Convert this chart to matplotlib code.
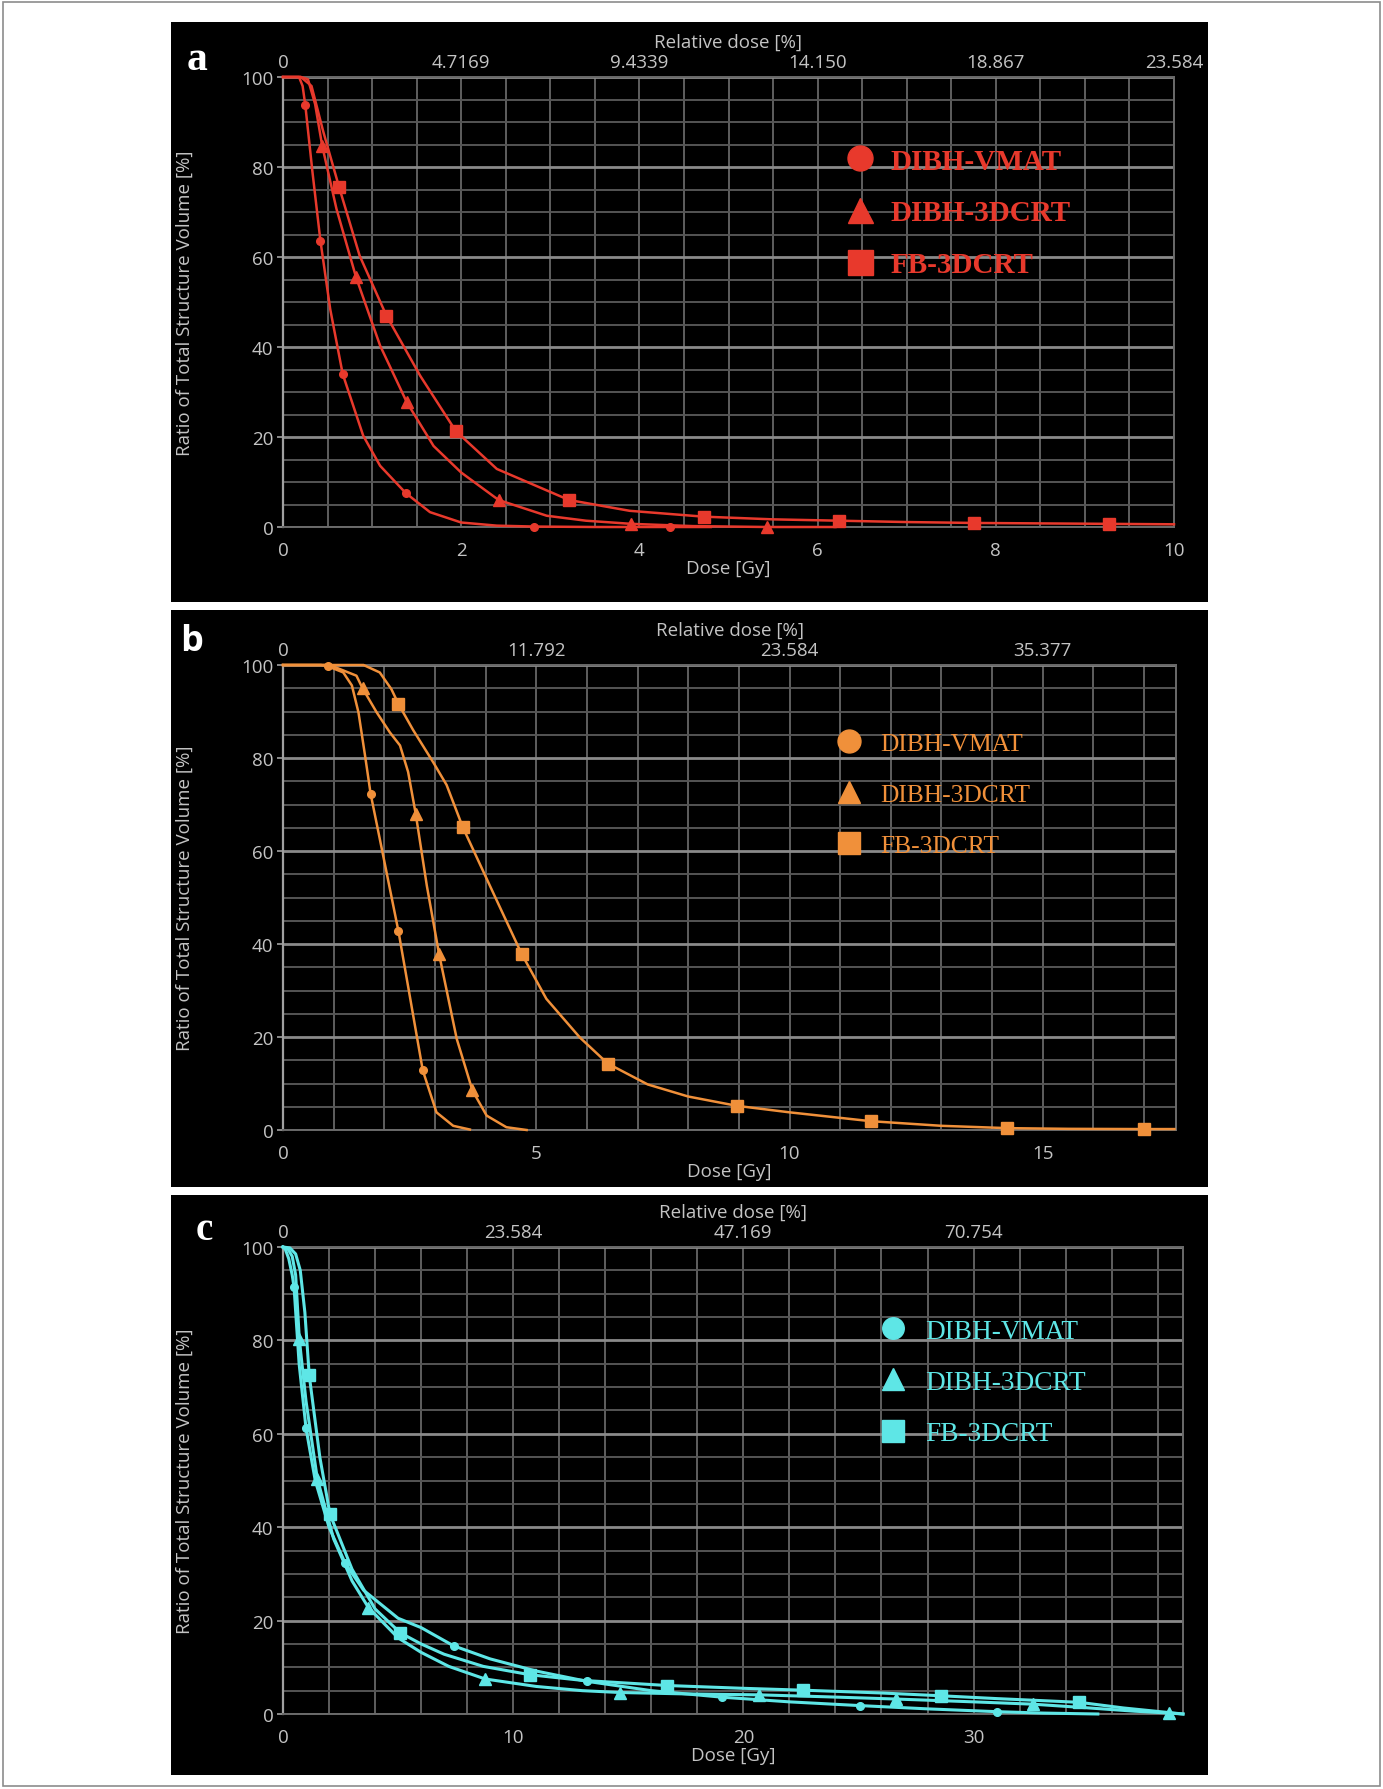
import matplotlib
matplotlib.use('Agg')
import matplotlib.pyplot as plt
from matplotlib.patches import Rectangle
from matplotlib.lines import Line2D
from matplotlib.ticker import MultipleLocator

# ---------------- data ----------------
series_names = ["DIBH-VMAT", "DIBH-3DCRT", "FB-3DCRT"]

# panel a
a_vmat_dose = [0, 0.18, 0.22, 0.25, 0.33, 0.42, 0.53, 0.67, 0.9, 1.09, 1.38, 1.65, 2.0, 2.4, 2.82, 3.5, 4.34, 4.8]
a_vmat_vol = [100, 100, 98, 93.8, 79, 63.6, 48.4, 34, 20.3, 13.6, 7.5, 3.3, 1.0, 0.3, 0.1, 0, 0, 0]
a_3d_dose = [0, 0.2, 0.28, 0.36, 0.44, 0.6, 0.82, 1.09, 1.39, 1.69, 2.0, 2.42, 2.96, 3.4, 3.91, 4.6, 5.43, 6.2]
a_3d_vol = [100, 100, 99.5, 94, 84.7, 70.7, 55.5, 40.3, 27.7, 18, 12.1, 6.0, 2.5, 1.4, 0.7, 0.2, 0, 0]
a_fb_dose = [0, 0.2, 0.32, 0.45, 0.63, 0.86, 1.16, 1.54, 1.94, 2.4, 3.21, 3.89, 4.72, 5.5, 6.24, 7.0, 7.75, 8.5, 9.27, 10.0]
a_fb_vol = [100, 100, 98, 88, 75.5, 60.3, 47, 33.6, 21.3, 12.9, 6.0, 3.6, 2.3, 1.7, 1.4, 1.1, 0.9, 0.8, 0.7, 0.6]
a_vmat_mk_dose = [0.25, 0.42, 0.67, 1.38, 2.82, 4.34]
a_vmat_mk_vol = [93.8, 63.6, 34.0, 7.5, 0.1, 0]
a_3d_mk_dose = [0.44, 0.82, 1.39, 2.42, 3.91, 5.43]
a_3d_mk_vol = [84.7, 55.5, 27.7, 6.0, 0.7, 0]
a_fb_mk_dose = [0.63, 1.16, 1.94, 3.21, 4.72, 6.24, 7.75, 9.27]
a_fb_mk_vol = [75.5, 47, 21.3, 6.0, 2.3, 1.4, 0.9, 0.7]
a_rel_ticks = [0, 2, 4, 6, 8, 10]
a_rel_labels = ["0", "4.7169", "9.4339", "14.150", "18.867", "23.584"]

# panel b
b_vmat_dose = [0, 0.75, 0.89, 1.19, 1.36, 1.49, 1.62, 1.73, 2.0, 2.28, 2.5, 2.76, 3.03, 3.36, 3.69]
b_vmat_vol = [100, 100, 99.7, 98.4, 95.6, 89.8, 80.5, 72.3, 57.8, 42.7, 29, 12.8, 3.8, 0.9, 0.1]
b_3d_dose = [0, 0.85, 0.99, 1.45, 1.57, 1.85, 2.11, 2.31, 2.47, 2.62, 2.84, 3.08, 3.43, 3.74, 4.02, 4.41, 4.81]
b_3d_vol = [100, 100, 99.7, 97.7, 95, 89.8, 85.5, 82.7, 77, 68, 52.5, 37.9, 19.6, 8.5, 3.1, 0.6, 0]
b_fb_dose = [0, 1.59, 1.91, 2.14, 2.28, 2.57, 2.97, 3.23, 3.55, 4.15, 4.71, 5.2, 5.86, 6.41, 7.2, 8.0, 8.96, 10.0, 11.6, 13.0, 14.3, 15.5, 17.0, 17.6]
b_fb_vol = [100, 100, 98.4, 94.8, 91.6, 86, 79, 74.2, 65.1, 51, 37.9, 28.2, 19.9, 14.3, 9.8, 7.2, 5.2, 3.8, 1.9, 0.9, 0.4, 0.25, 0.2, 0.2]
b_vmat_mk_dose = [0.89, 1.73, 2.28, 2.76]
b_vmat_mk_vol = [99.7, 72.3, 42.7, 12.8]
b_3d_mk_dose = [1.57, 2.62, 3.08, 3.74]
b_3d_mk_vol = [95, 68, 37.9, 8.5]
b_fb_mk_dose = [2.28, 3.55, 4.71, 6.41, 8.96, 11.6, 14.3, 17.0]
b_fb_mk_vol = [91.6, 65.1, 37.9, 14.3, 5.2, 1.9, 0.4, 0.2]
b_rel_ticks = [0, 5, 10, 15]
b_rel_labels = ["0", "11.792", "23.584", "35.377"]

# panel c
c_vmat_dose = [0, 0.1, 0.25, 0.4, 0.48, 0.7, 1.0, 1.4, 2.0, 2.7, 3.5, 5.0, 6.0, 7.41, 9.0, 11, 13.2, 16, 19.07, 22, 25.06, 28, 31.0, 33, 35.4]
c_vmat_vol = [100, 99.5, 97.5, 94, 91.4, 75, 61.2, 50, 40, 32.3, 26.5, 20.5, 18.5, 14.6, 11.8, 9.2, 7.0, 5.0, 3.6, 2.6, 1.8, 1.1, 0.5, 0.2, 0]
c_3d_dose = [0, 0.2, 0.4, 0.55, 0.71, 1.0, 1.49, 2.2, 3.0, 3.71, 5.0, 6.0, 7.2, 8.78, 11, 13, 14.65, 17.5, 20.7, 23.5, 26.65, 30, 32.6, 35, 37, 38.5, 39.1]
c_3d_vol = [100, 99.7, 98, 94, 80.2, 67, 50.4, 37.5, 28.5, 22.8, 16.3, 13.2, 10.2, 7.5, 5.9, 5.0, 4.6, 4.3, 4.1, 3.7, 3.2, 2.6, 2.1, 1.3, 0.6, 0.2, 0]
c_fb_dose = [0, 0.3, 0.55, 0.75, 0.95, 1.14, 1.6, 2.04, 3.0, 4.0, 5.09, 6.0, 7.0, 8.7, 10.74, 13, 16.7, 20, 22.6, 26, 28.6, 31, 34.6, 36.5, 38.5, 39.1]
c_fb_vol = [100, 99.8, 98.5, 95, 86, 72.5, 55, 42.8, 31, 22.5, 17.4, 15, 12.8, 10.2, 8.4, 7.2, 6.1, 5.5, 5.1, 4.5, 3.9, 3.3, 2.5, 1.3, 0.3, 0]
c_vmat_mk_dose = [0.48, 1.0, 2.70, 7.41, 13.2, 19.07, 25.06, 31.0]
c_vmat_mk_vol = [91.4, 61.2, 32.3, 14.6, 7.0, 3.6, 1.8, 0.5]
c_3d_mk_dose = [0.71, 1.49, 3.71, 8.78, 14.65, 20.7, 26.65, 32.6, 38.5]
c_3d_mk_vol = [80.2, 50.4, 22.8, 7.5, 4.6, 4.1, 3.2, 2.1, 0.2]
c_fb_mk_dose = [1.14, 2.04, 5.09, 10.74, 16.7, 22.6, 28.6, 34.6]
c_fb_mk_vol = [72.5, 42.8, 17.4, 8.4, 6.1, 5.1, 3.9, 2.5]
c_rel_ticks = [0, 10, 20, 30]
c_rel_labels = ["0", "23.584", "47.169", "70.754"]

y_ticks = [0, 20, 40, 60, 80, 100]

# ---------------- layout ----------------
W, H = 1383, 1790
fig = plt.figure(figsize=(W / 100, H / 100), dpi=100)
fig.patch.set_facecolor('white')
fig.patches.append(Rectangle((3 / W, 3 / H), (W - 6) / W, (H - 6) / H, transform=fig.transFigure,
                             fill=False, edgecolor='#8c8c8c', lw=1.2, zorder=-20))


def rect(l, t, r, b):
    return [l / W, 1 - b / H, (r - l) / W, (b - t) / H]


SANS = ['Open Sans', 'DejaVu Sans']
SERIF = ['Liberation Serif', 'DejaVu Serif']
TXT = '#c4c4c4'
FS = 13.5

panels = [
    dict(box=(171, 23, 1208, 603), ax=(283, 78, 1174, 528), xmax=10, xmaj=2, xmin=0.5, lw=1.8,
         color='#e8392c', letter='a', letter_xy=(197, 60), letter_font=SERIF, letter_size=30,
         curves=[(a_vmat_dose, a_vmat_vol, a_vmat_mk_dose, a_vmat_mk_vol),
                 (a_3d_dose, a_3d_vol, a_3d_mk_dose, a_3d_mk_vol),
                 (a_fb_dose, a_fb_vol, a_fb_mk_dose, a_fb_mk_vol)],
         rel=(a_rel_ticks, a_rel_labels),
         leg=dict(fs=21, weight='bold', ms=18, anchor=(0.631, 0.843), tp=0.56, ls=0.85)),
    dict(box=(171, 611, 1208, 1188), ax=(283, 666, 1176, 1131), xmax=17.63, xmaj=5, xmin=1, lw=1.8,
         color='#f0903a', letter='b', letter_xy=(192, 642), letter_font=SANS, letter_size=26,
         curves=[(b_vmat_dose, b_vmat_vol, b_vmat_mk_dose, b_vmat_mk_vol),
                 (b_3d_dose, b_3d_vol, b_3d_mk_dose, b_3d_mk_vol),
                 (b_fb_dose, b_fb_vol, b_fb_mk_dose, b_fb_mk_vol)],
         rel=(b_rel_ticks, b_rel_labels),
         leg=dict(fs=18.4, weight='normal', ms=16.5, anchor=(0.6195, 0.855), tp=0.71, ls=1.1)),
    dict(box=(171, 1196, 1208, 1776), ax=(283, 1248, 1183, 1715), xmax=39.1, xmaj=10, xmin=2, lw=2.2,
         color='#5ee6e6', letter='c', letter_xy=(204, 1231), letter_font=SERIF, letter_size=28,
         curves=[(c_vmat_dose, c_vmat_vol, c_vmat_mk_dose, c_vmat_mk_vol),
                 (c_3d_dose, c_3d_vol, c_3d_mk_dose, c_3d_mk_vol),
                 (c_fb_dose, c_fb_vol, c_fb_mk_dose, c_fb_mk_vol)],
         rel=(c_rel_ticks, c_rel_labels),
         leg=dict(fs=19.6, weight='normal', ms=15.5, anchor=(0.663, 0.847), tp=0.67, ls=0.97)),
]

markers = ['o', '^', 's']
plot_ms = [5.5, 9, 9]

for p in panels:
    l, t, r, b = p['box']
    fig.patches.append(Rectangle((l / W, 1 - b / H), (r - l) / W, (b - t) / H,
                                 transform=fig.transFigure, facecolor='black', edgecolor='none',
                                 zorder=-10))
    ax = fig.add_axes(rect(*p['ax']))
    ax.set_facecolor('black')
    ax.set_xlim(0, p['xmax'])
    ax.set_ylim(0, 100)
    ax.xaxis.set_major_locator(MultipleLocator(p['xmaj']))
    ax.xaxis.set_minor_locator(MultipleLocator(p['xmin']))
    ax.set_yticks(y_ticks)
    ax.yaxis.set_minor_locator(MultipleLocator(5))
    ax.grid(axis='x', which='both', color='#5f5f5f', lw=1.4)
    ax.grid(axis='y', which='minor', color='#555555', lw=1.4)
    ax.grid(axis='y', which='major', color='#8a8a8a', lw=2.0)
    ax.set_axisbelow(True)
    for s in ['top', 'right', 'bottom']:
        ax.spines[s].set_color('#6a6a6a')
        ax.spines[s].set_linewidth(1.4)
    ax.spines['left'].set_color('#a0a0a0')
    ax.spines['left'].set_linewidth(1.6)
    ax.tick_params(axis='x', which='both', length=0, pad=10, labelsize=FS, labelcolor=TXT)
    ax.tick_params(axis='y', which='major', length=4, width=1.2, color='#a0a0a0', pad=3,
                   labelsize=FS, labelcolor=TXT)
    ax.tick_params(axis='y', which='minor', length=0)
    for lab in ax.get_xticklabels() + ax.get_yticklabels():
        lab.set_family(SANS)
    ax.set_xlabel('Dose [Gy]', fontsize=FS, color=TXT, family=SANS, labelpad=0)
    ax.set_ylabel('Ratio of Total Structure Volume [%]', fontsize=FS, color=TXT, family=SANS)
    axw = p['ax'][2] - p['ax'][0]
    ax.yaxis.set_label_coords((194 - p['ax'][0]) / axw, 0.5)

    sec = ax.secondary_xaxis('top')
    sec.set_xticks(p['rel'][0], p['rel'][1])
    sec.tick_params(length=0, pad=4, labelsize=FS, labelcolor=TXT)
    for lab in sec.get_xticklabels():
        lab.set_family(SANS)
    sec.spines['top'].set_visible(False)
    sec.set_xlabel('Relative dose [%]', fontsize=FS, color=TXT, family=SANS, labelpad=5)

    for (xd, yd, mx, my), m, ms in zip(p['curves'], markers, plot_ms):
        ax.plot(xd, yd, color=p['color'], lw=p['lw'], clip_on=False, zorder=3,
                solid_joinstyle='round')
        ax.plot(mx, my, ls='none', marker=m, ms=ms, color=p['color'], clip_on=False, zorder=4)

    lg = p['leg']
    handles = [Line2D([], [], ls='none', marker=m, color=p['color'], ms=lg['ms']) for m in markers]
    leg = ax.legend(handles, series_names, loc='upper left', bbox_to_anchor=lg['anchor'],
                    frameon=False, borderpad=0, borderaxespad=0, handlelength=1.0,
                    handletextpad=lg['tp'], labelspacing=lg['ls'],
                    prop=dict(family=SERIF, size=lg['fs'], weight=lg['weight']))
    for txt in leg.get_texts():
        txt.set_color(p['color'])

    lx, ly = p['letter_xy']
    fig.text(lx / W, 1 - ly / H, p['letter'], color='white', fontsize=p['letter_size'],
             fontweight='bold', family=p['letter_font'], ha='center', va='center')

fig.savefig('out.png', dpi=100, facecolor='white')
